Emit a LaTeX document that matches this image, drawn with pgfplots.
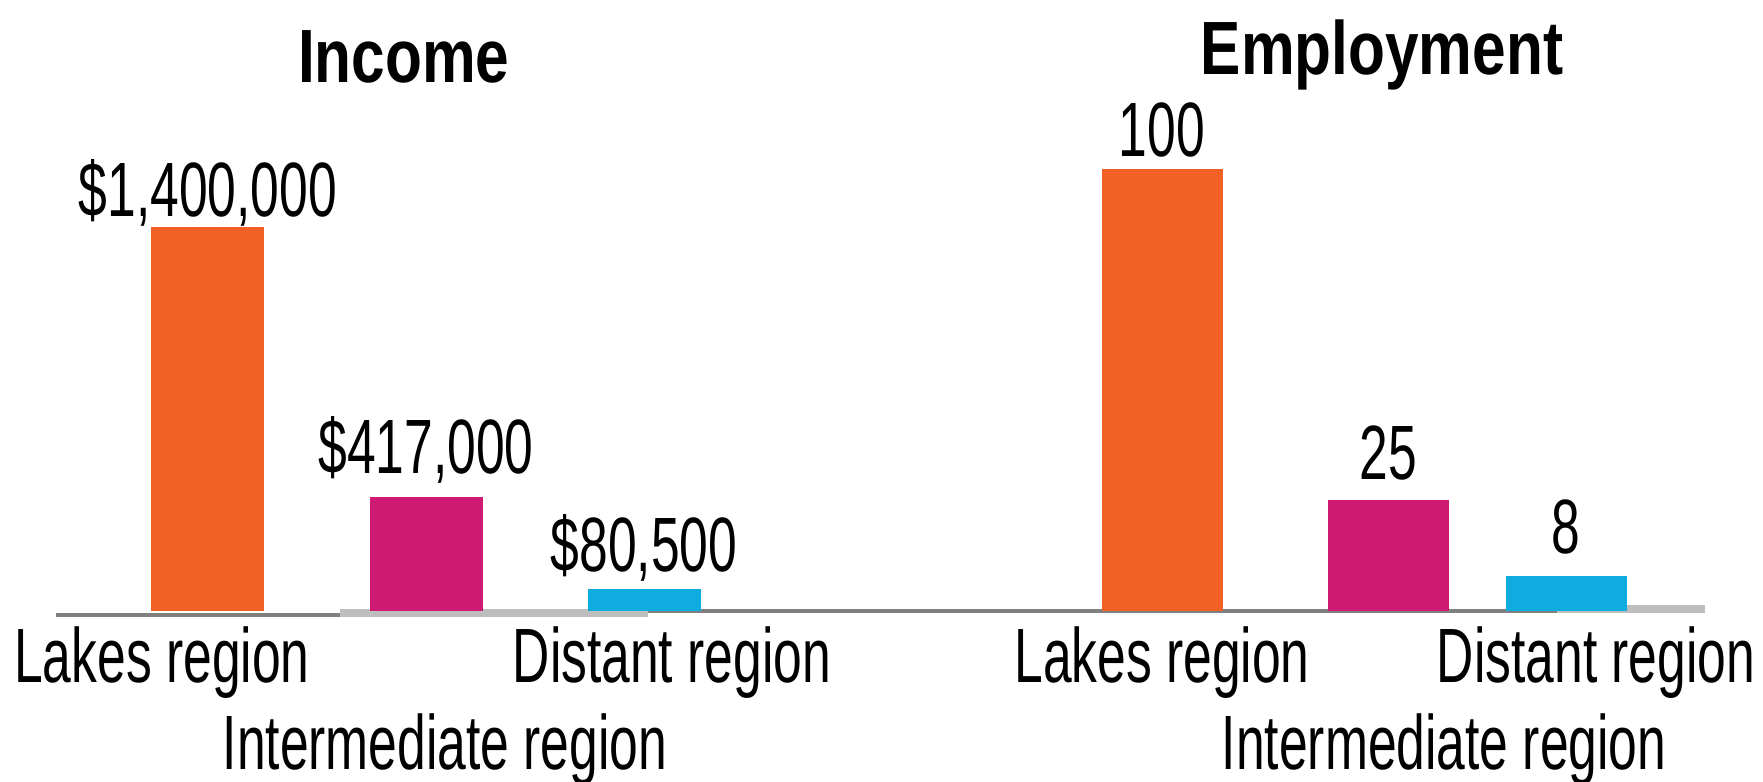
\documentclass[border=0pt]{standalone}
\usepackage{fontspec}
\setmainfont{Liberation Sans}[FakeStretch=0.67]
\newfontfamily\titlefont{Liberation Sans}[FakeStretch=0.80]
\usepackage{pgfplots}
\pgfplotsset{compat=1.18}

\definecolor{lakes}{HTML}{F16024}
\definecolor{inter}{HTML}{CE1A72}
\definecolor{distant}{HTML}{0FACE0}
\definecolor{axisdark}{HTML}{808080}
\definecolor{axislight}{HTML}{BEBEBE}

\newcommand{\lblfont}{\fontsize{15.4pt}{18pt}\selectfont}

\pgfplotsset{
  regionbars/.style={
    scale only axis, height=88.4pt, ymin=0,
    axis x line*=bottom, axis y line=none, ytick=\empty,
    x axis line style={draw=none},
    major tick length=0pt, tick style={draw=none},
    clip=false, ybar,
    /pgf/number format/assume math mode=true,
    tick label style={font=\lblfont, inner sep=0pt},
    xticklabel style={anchor=base, yshift=-14.4pt},
    extra x tick style={xticklabel style={yshift=-17.4pt}},
    nodes near coords,
    every node near coord/.append style={anchor=base, inner sep=0pt, font=\lblfont},
    every axis title shift=0pt,
    title style={font=\titlefont\bfseries\fontsize{15.1pt}{18pt}\selectfont, anchor=base, inner sep=0pt},
  },
  gap/.style={every node near coord/.append style={yshift=#1}},
}

\begin{document}
\begin{tikzpicture}
% baseline strip (px of the original, 0.2pt each)
\begin{scope}[x=0.2pt,y=0.2pt]
\fill[axisdark]  (56,-2) rectangle (340,-6);
\fill[axislight] (340,2) rectangle (648,-6);
\fill[axisdark]  (648,2) rectangle (1557,-2);
\fill[axislight] (1557,6) rectangle (1705,-2);
\end{scope}

\begin{axis}[regionbars,
  at={(8pt,0pt)}, anchor=south west,
  width=136pt, xmin=-0.7706, xmax=2.3486, ymax=1611458,
  title={Income}, title style={at={(axis description cs:0.535,1.1946)}},
  xtick={-0.211,2.128}, xticklabels={Lakes region,Distant region},
  extra x ticks={1.087}, extra x tick labels={Intermediate region},
  nodes near coords={\$\pgfmathprintnumber[fixed,precision=0,1000 sep={,}]{\pgfplotspointmeta}},
]
\addplot[fill=lakes, draw=none, bar shift=0pt, bar width=22.6pt, gap=2pt] coordinates {(0,1400000)};
\addplot[fill=inter, draw=none, bar shift=0pt, bar width=22.6pt, gap=4.6pt] coordinates {(1,417000)};
\addplot[fill=distant, draw=none, bar shift=0pt, bar width=22.6pt, gap=3.4pt] coordinates {(2,80500)};
\end{axis}

\begin{axis}[regionbars,
  at={(180pt,0pt)}, anchor=south west,
  width=168pt, xmin=-1.1593, xmax=2.5575, ymax=100,
  title={Employment}, title style={at={(axis description cs:0.5738,1.2127)}},
  xtick={0,1.920}, xticklabels={Lakes region,Distant region},
  extra x ticks={1.248}, extra x tick labels={Intermediate region},
]
\addplot[fill=lakes, draw=none, bar shift=0pt, bar width=24.2pt, gap=2.4pt] coordinates {(0,100)};
\addplot[fill=inter, draw=none, bar shift=0pt, bar width=24.2pt, gap=4.2pt] coordinates {(1,25)};
\addplot[fill=distant, draw=none, bar shift=0pt, bar width=24.2pt, gap=4.4pt] coordinates {(1.788,8)};
\end{axis}

\pgfresetboundingbox
\begin{scope}[x=0.2pt,y=0.2pt]
\useasboundingbox (0,-171) rectangle (1763,611);
\end{scope}
\end{tikzpicture}
\end{document}
